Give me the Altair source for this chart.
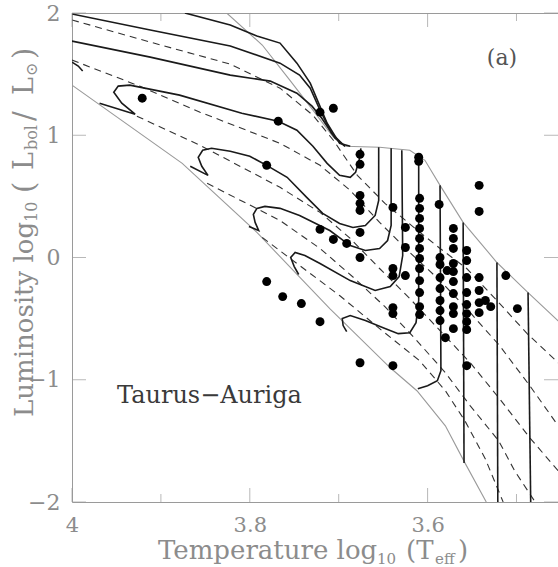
import altair as alt
import pandas as pd

FONT = "DejaVu Serif"
GRAY = "#8c8c8c"

# ---------------- axis values ----------------
X_LABELS = [4, 3.8, 3.6]
X_MINOR = [3.9, 3.7, 3.5]
Y_LABELS = [2, 1, 0, -1, -2]

# ---------------- birthline and ZAMS (thin grey) ----------------
BIRTH_T = [3.826, 3.786, 3.755, 3.729, 3.706, 3.693, 3.654, 3.620, 3.603, 3.586, 3.560, 3.522, 3.487, 3.450]
BIRTH_L = [2.000, 1.738, 1.451, 1.205, 0.984, 0.910, 0.902, 0.877, 0.795, 0.590, 0.287, -0.041, -0.287, -0.540]
ZAMS_T = [4.000, 3.876, 3.792, 3.710, 3.642, 3.612, 3.580, 3.558, 3.534]
ZAMS_L = [1.410, 0.770, 0.205, -0.418, -0.902, -1.090, -1.377, -1.680, -2.000]

# ---------------- evolutionary tracks (solid) ----------------
S1_T = [3.873, 3.822, 3.792, 3.766, 3.747, 3.732, 3.724, 3.713, 3.699, 3.687]
S1_L = [2.000, 1.902, 1.811, 1.754, 1.590, 1.426, 1.287, 1.098, 0.934, 0.910]
S2_T = [4.000, 3.912, 3.822, 3.766, 3.744, 3.732, 3.721, 3.708, 3.693]
S2_L = [1.992, 1.861, 1.730, 1.590, 1.492, 1.385, 1.205, 1.016, 0.910]
S3_T = [4.000, 3.912, 3.822, 3.777, 3.747, 3.730, 3.719, 3.704, 3.693]
S3_L = [1.770, 1.639, 1.492, 1.443, 1.344, 1.238, 1.139, 0.975, 0.910]
STUB_T = [4.000, 3.993, 3.988]
STUB_L = [1.598, 1.566, 1.525]
S4_T = [3.675, 3.677, 3.681, 3.687, 3.699, 3.713, 3.729, 3.747, 3.768, 3.809, 3.879, 3.935, 3.948, 3.953, 3.944, 3.929, 3.969]
S4_L = [0.893, 0.795, 0.697, 0.656, 0.672, 0.770, 0.910, 1.041, 1.115, 1.180, 1.328, 1.410, 1.402, 1.352, 1.262, 1.172, 1.262]
S5_T = [3.655, 3.655, 3.659, 3.670, 3.684, 3.699, 3.718, 3.736, 3.758, 3.781, 3.800, 3.822, 3.843, 3.853, 3.858, 3.854, 3.847, 3.867]
S5_L = [0.902, 0.467, 0.344, 0.262, 0.246, 0.279, 0.361, 0.492, 0.656, 0.754, 0.828, 0.869, 0.893, 0.877, 0.820, 0.746, 0.672, 0.746]
S6_T = [3.641, 3.641, 3.645, 3.654, 3.670, 3.687, 3.710, 3.744, 3.766, 3.783, 3.792, 3.796, 3.794, 3.790, 3.801]
S6_L = [0.893, 0.262, 0.139, 0.074, 0.057, 0.098, 0.221, 0.344, 0.402, 0.418, 0.402, 0.352, 0.287, 0.221, 0.254]
S7_T = [3.629, 3.628, 3.632, 3.642, 3.659, 3.687, 3.721, 3.738, 3.749, 3.754, 3.750, 3.745]
S7_L = [0.877, 0.016, -0.156, -0.238, -0.270, -0.189, -0.049, 0.016, 0.041, 0.000, -0.074, -0.139]
S8_T = [3.610, 3.610, 3.613, 3.620, 3.633, 3.650, 3.670, 3.687, 3.696, 3.695, 3.691]
S8_L = [0.836, -0.352, -0.533, -0.615, -0.623, -0.574, -0.516, -0.475, -0.500, -0.557, -0.607]
S9_T = [3.586, 3.585, 3.589, 3.600, 3.611]
S9_L = [0.590, -0.926, -1.008, -1.049, -1.074]
S10_T = [3.560, 3.559]
S10_L = [0.287, -1.680]
S11_T = [3.522, 3.521]
S11_L = [-0.041, -2.000]
S12_T = [3.487, 3.484]
S12_L = [-0.287, -2.000]

# ---------------- isochrones (dashed) ----------------
D1_T = [4.000, 3.912, 3.822, 3.766, 3.729, 3.706, 3.679, 3.648, 3.614, 3.586, 3.556, 3.522, 3.488, 3.453]
D1_L = [1.943, 1.762, 1.582, 1.385, 1.164, 0.959, 0.672, 0.443, 0.238, 0.074, -0.090, -0.352, -0.623, -0.861]
D2_T = [4.000, 3.924, 3.856, 3.766, 3.721, 3.687, 3.654, 3.620, 3.586, 3.552, 3.519, 3.485, 3.453]
D2_L = [1.615, 1.402, 1.189, 0.934, 0.754, 0.549, 0.287, 0.041, -0.189, -0.451, -0.721, -1.049, -1.377]
D3_T = [3.927, 3.856, 3.766, 3.721, 3.687, 3.654, 3.620, 3.586, 3.552, 3.519, 3.485, 3.453]
D3_L = [1.156, 0.918, 0.574, 0.369, 0.156, -0.090, -0.336, -0.598, -0.861, -1.156, -1.475, -1.746]
D4_T = [3.848, 3.766, 3.721, 3.682, 3.648, 3.614, 3.580, 3.552, 3.520, 3.502, 3.479]
D4_L = [0.607, 0.303, 0.074, -0.172, -0.402, -0.664, -0.943, -1.213, -1.500, -1.746, -2.000]
D5_T = [3.786, 3.747, 3.699, 3.654, 3.609, 3.580, 3.558, 3.535, 3.515]
D5_L = [0.164, -0.049, -0.311, -0.582, -0.844, -1.090, -1.336, -1.648, -2.000]

# ---------------- stars ----------------
STAR_T = [3.921, 3.768, 3.721, 3.706, 3.781,
          3.676, 3.676, 3.676, 3.676, 3.676, 3.676, 3.676,
          3.721, 3.706, 3.691,
          3.639, 3.625, 3.625, 3.625,
          3.639, 3.639, 3.639, 3.639,
          3.610, 3.610,
          3.609, 3.609, 3.609, 3.609, 3.609, 3.609, 3.609, 3.609, 3.609, 3.609, 3.609, 3.609,
          3.587,
          3.586, 3.586, 3.586, 3.586, 3.586, 3.586, 3.586,
          3.578, 3.580,
          3.571, 3.571, 3.571, 3.571, 3.571, 3.571, 3.571, 3.571, 3.571, 3.571,
          3.556, 3.556, 3.556, 3.556, 3.556, 3.556, 3.556, 3.556, 3.556,
          3.542, 3.542,
          3.542, 3.542, 3.542, 3.542,
          3.535, 3.529, 3.512, 3.499,
          3.781, 3.763, 3.742, 3.721, 3.676, 3.639]
STAR_L = [1.303, 1.115, 1.189, 1.221, 0.754,
          0.844, 0.762, 0.508, 0.443, 0.385, 0.205, 0.000,
          0.230, 0.148, 0.115,
          0.410, 0.246, 0.082, -0.148,
          -0.090, -0.148, -0.410, -0.459,
          0.820, 0.787,
          0.484, 0.402, 0.320, 0.238, 0.156, 0.074, -0.008, -0.090, -0.189, -0.287, -0.402, -0.467,
          0.434,
          0.000, -0.057, -0.164, -0.254, -0.352, -0.434, -0.516,
          -0.107, -0.656,
          0.238, 0.156, 0.074, -0.049, -0.115, -0.197, -0.295, -0.402, -0.459, -0.582,
          0.057, -0.025, -0.164, -0.287, -0.385, -0.459, -0.525, -0.590, -0.885,
          0.590, 0.377,
          -0.164, -0.270, -0.369, -0.451,
          -0.352, -0.402, -0.148, -0.418,
          -0.197, -0.320, -0.377, -0.525, -0.861, -0.885]

PANEL = "(a)"
REGION = "Taurus\u2212Auriga"


def frame(lines):
    rows = []
    for name, T, L in lines:
        for i, (t, l) in enumerate(zip(T, L)):
            rows.append({"T": t, "L": l, "name": name, "i": i})
    return pd.DataFrame(rows)


tracks = frame([("S1", S1_T, S1_L), ("S2", S2_T, S2_L), ("S3", S3_T, S3_L), ("stub", STUB_T, STUB_L),
                ("S4", S4_T, S4_L), ("S5", S5_T, S5_L), ("S6", S6_T, S6_L), ("S7", S7_T, S7_L),
                ("S8", S8_T, S8_L), ("S9", S9_T, S9_L), ("S10", S10_T, S10_L), ("S11", S11_T, S11_L),
                ("S12", S12_T, S12_L)])
isos = frame([("D1", D1_T, D1_L), ("D2", D2_T, D2_L), ("D3", D3_T, D3_L), ("D4", D4_T, D4_L), ("D5", D5_T, D5_L)])
bounds = frame([("birth", BIRTH_T, BIRTH_L), ("zams", ZAMS_T, ZAMS_L)])
stars = pd.DataFrame({"T": STAR_T, "L": STAR_L})

W, H = 486, 489

XS = alt.Scale(domain=[3.4533, 4.0], reverse=True, nice=False, zero=False)
YS = alt.Scale(domain=[-2, 2], nice=False, zero=False)
X_AX = alt.Axis(values=X_LABELS, format="~g", ticks=False, domain=False, grid=False,
                labelFont=FONT, labelFontSize=21, labelColor=GRAY, labelPadding=12,
                labelFlush=False, labelOverlap=False, title=None)
Y_AX = alt.Axis(values=Y_LABELS, format="~g", ticks=False, domain=False, grid=False,
                labelFont=FONT, labelFontSize=22, labelColor=GRAY, labelPadding=12,
                labelFlush=False, labelOverlap=False, title=None)


def xenc(field="T"):
    return alt.X(f"{field}:Q", scale=XS, axis=X_AX)


def yenc(field="L"):
    return alt.Y(f"{field}:Q", scale=YS, axis=Y_AX)


bound_layer = alt.Chart(bounds).mark_line(color="#9a9a9a", strokeWidth=1.1, clip=True).encode(
    x=xenc(), y=yenc(), detail="name:N", order="i:Q")
iso_layer = alt.Chart(isos).mark_line(color="#333333", strokeWidth=1.1, strokeDash=[7, 5], clip=True).encode(
    x=xenc(), y=yenc(), detail="name:N", order="i:Q")
track_layer = alt.Chart(tracks).mark_line(color="#1a1a1a", strokeWidth=1.6, clip=True).encode(
    x=xenc(), y=yenc(), detail="name:N", order="i:Q")
star_layer = alt.Chart(stars).mark_circle(color="black", size=80, opacity=1).encode(x=xenc(), y=yenc())

# inward ticks on all four sides
TICK = "#9a9a9a"
xmaj = pd.DataFrame({"T": X_LABELS})
xmin = pd.DataFrame({"T": X_MINOR})
ymaj = pd.DataFrame({"L": Y_LABELS})
ticks = [
    alt.Chart(xmaj).mark_tick(orient="vertical", size=14, thickness=1, color=TICK).encode(x=xenc(), y=alt.value(H - 7)),
    alt.Chart(xmaj).mark_tick(orient="vertical", size=14, thickness=1, color=TICK).encode(x=xenc(), y=alt.value(7)),
    alt.Chart(xmin).mark_tick(orient="vertical", size=8, thickness=1, color=TICK).encode(x=xenc(), y=alt.value(H - 4)),
    alt.Chart(xmin).mark_tick(orient="vertical", size=8, thickness=1, color=TICK).encode(x=xenc(), y=alt.value(4)),
    alt.Chart(ymaj).mark_tick(orient="horizontal", size=14, thickness=1, color=TICK).encode(y=yenc(), x=alt.value(7)),
    alt.Chart(ymaj).mark_tick(orient="horizontal", size=14, thickness=1, color=TICK).encode(y=yenc(), x=alt.value(W - 7)),
]


def txt(s, x, y, size, color=GRAY, angle=0, align="left", baseline="alphabetic"):
    kw = dict(align=align, baseline=baseline, font=FONT, fontSize=size, color=color)
    if angle:
        kw["angle"] = angle
    return alt.Chart(pd.DataFrame({"t": [s]})).mark_text(**kw).encode(
        x=alt.value(x), y=alt.value(y), text="t:N")


texts = [
    txt(PANEL, 430, 45, 22, color="#555555", align="center", baseline="middle"),
    txt(REGION, 45, 390, 24, color="#3a3a3a"),
    # x title: Temperature log10 (Teff)
    txt("Temperature log", 86, 546, 26),
    txt("10", 305, 551, 15),
    txt("(T", 334, 546, 26),
    txt("eff", 363, 551, 15),
    txt(")", 386, 546, 26),
    # y title: Luminosity log10 (Lbol/L_sun)
    txt("Luminosity log", -47, 404, 26, angle=270, baseline="middle"),
    txt("10", -40, 209, 16, angle=270, baseline="middle"),
    txt("(", -47, 180, 29, angle=270, baseline="middle"),
    txt("L", -47, 157, 27, angle=270, baseline="middle"),
    txt("bol", -40, 137, 16, angle=270, baseline="middle"),
    txt("/", -47, 108, 29, angle=270, baseline="middle"),
    txt("L", -47, 82, 27, angle=270, baseline="middle"),
    txt("\u2299", -40, 63, 16, angle=270, baseline="middle"),
    txt(")", -47, 46, 29, angle=270, baseline="middle"),
]

chart = alt.layer(bound_layer, iso_layer, track_layer, star_layer, *ticks, *texts).properties(
    width=W, height=H,
    autosize=alt.AutoSizeParams(type="none"),
    padding={"left": 72, "top": 13, "right": 0, "bottom": 65},
).configure_view(stroke="#9a9a9a", strokeWidth=1)

chart.save("out.html", embed_options={"renderer": "svg", "actions": False})
